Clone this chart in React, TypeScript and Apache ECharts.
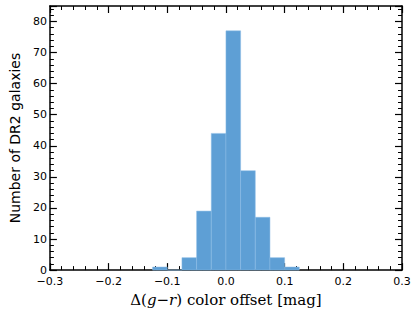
import React, { useEffect, useRef } from "react";
import * as echarts from "echarts";

const binStarts = [-0.125, -0.1, -0.075, -0.05, -0.025, 0.0, 0.025, 0.05, 0.075, 0.1];
const counts = [1, 0, 4, 19, 44, 77, 32, 17, 4, 1];
const binWidth = 0.025;
const xTicks = [-0.3, 0.3, 0.1];
const yTicks = [0, 85, 10];

const fmtX = (v: number) => {
  const s = (Math.round(v * 10) / 10).toFixed(1);
  return s.replace("-", "\u2212").replace("\u22120.0", "0.0");
};

export default function App() {
  const ref = useRef<HTMLDivElement>(null);
  useEffect(() => {
    if (!ref.current) return;
    const chart = echarts.init(ref.current, null, { renderer: "svg" });
    const data = binStarts.map((s, i) => [s, s + binWidth, counts[i]]);
    const axisLine = { show: true, onZero: false, lineStyle: { color: "#000", width: 1.5 } };
    const tick = { show: true, inside: true, length: 7, lineStyle: { color: "#000", width: 1.2 } };
    const minor = { show: true, splitNumber: 5, length: 4, lineStyle: { color: "#000", width: 1 } };
    const labelStyle = { fontFamily: "DejaVu Sans", fontSize: 11, lineHeight: 11, color: "#000" };
    chart.setOption({
      animation: false,
      grid: { left: 45, right: 13, top: 6, bottom: 38 },
      xAxis: [
        {
          type: "value",
          position: "bottom",
          min: xTicks[0],
          max: xTicks[1],
          interval: xTicks[2],
          axisLine,
          axisTick: tick,
          minorTick: minor,
          splitLine: { show: false },
          axisLabel: { ...labelStyle, margin: 6, formatter: fmtX },
          name: "{a|\u0394(}{i|g}{a|\u2212}{i|r}{a|) color offset [mag]}",
          nameLocation: "middle",
          nameGap: 15,
          nameTextStyle: {
            verticalAlign: "top",
            rich: {
              a: { fontFamily: "DejaVu Serif", fontSize: 15, color: "#000" },
              i: { fontFamily: "DejaVu Serif", fontSize: 15, fontStyle: "italic", color: "#000" },
            },
          },
        },
        {
          type: "value",
          position: "top",
          min: xTicks[0],
          max: xTicks[1],
          interval: xTicks[2],
          axisLine,
          axisTick: tick,
          minorTick: minor,
          splitLine: { show: false },
          axisLabel: { show: false },
        },
      ],
      yAxis: [
        {
          type: "value",
          position: "left",
          min: yTicks[0],
          max: yTicks[1],
          interval: yTicks[2],
          axisLine,
          axisTick: tick,
          minorTick: minor,
          splitLine: { show: false },
          axisLabel: { ...labelStyle, margin: 3, showMaxLabel: false },
          name: "Number of DR2 galaxies",
          nameLocation: "middle",
          nameGap: 22,
          nameTextStyle: { fontFamily: "DejaVu Sans", fontSize: 14, color: "#000" },
        },
        {
          type: "value",
          position: "right",
          min: yTicks[0],
          max: yTicks[1],
          interval: yTicks[2],
          axisLine,
          axisTick: tick,
          minorTick: minor,
          splitLine: { show: false },
          axisLabel: { show: false },
        },
      ],
      series: [
        {
          type: "custom",
          xAxisIndex: 0,
          yAxisIndex: 0,
          data,
          renderItem: (params: any, api: any) => {
            const x0 = api.value(0);
            const x1 = api.value(1);
            const y = api.value(2);
            const p0 = api.coord([x0, 0]);
            const p1 = api.coord([x1, y]);
            return {
              type: "rect",
              shape: { x: p0[0], y: p1[1], width: p1[0] - p0[0], height: p0[1] - p1[1] },
              style: { fill: "#5e9fd5", stroke: "#8dbde6", lineWidth: 0.5 },
            };
          },
          z: 1,
        },
      ],
    });
    return () => chart.dispose();
  }, []);
  return (
    <div
      ref={ref}
      style={{ position: "absolute", left: 0, top: 0, width: 415, height: 312 }}
    />
  );
}
